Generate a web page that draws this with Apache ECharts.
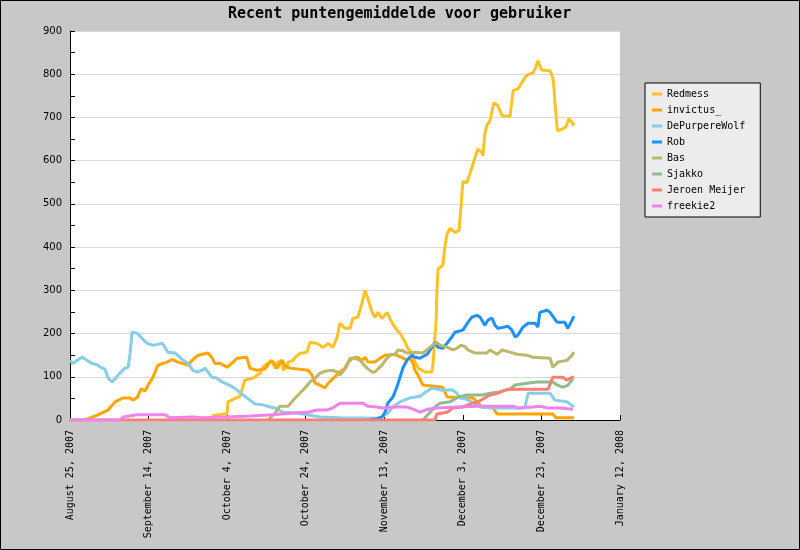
<!DOCTYPE html>
<html>
<head>
<meta charset="utf-8">
<script src="https://cdn.jsdelivr.net/npm/echarts@6/dist/echarts.min.js"></script>
<style>
html,body{margin:0;padding:0;background:#c8c8c8;}
#chart{width:800px;height:550px;}
</style>
</head>
<body>
<div id="chart"></div>
<script>
// Data: [days since August 25, 2007, value]
const seriesNames = ["Redmess","invictus_","DePurpereWolf","Rob","Bas","Sjakko","Jeroen Meijer","freekie2"];
const yTicks = [0,100,200,300,400,500,600,700,800,900];
const xTickDays = [0,20,40,60,80,100,120,140];

const redmess = [[36.1,10],[40,15],[40.2,42],[43.3,55],[44.5,92],[46.6,97],[48.4,108],[49.1,122],[50.4,132],[51.4,138],[52.2,120],[52.9,134],[54,138],[54.2,115],[55.2,122],[55.5,134],[56.8,138],[57.3,145],[58.5,154],[60.3,157],[61.1,180],[62.9,177],[63.6,173],[64.4,168],[65.7,177],[66.9,168],[68,192],[68.7,224],[70,212],[71.3,212],[72,235],[73.3,238],[74.3,270],[75.1,300],[75.8,281],[76.9,249],[77.6,238],[78.4,249],[79.4,235],[80.7,249],[82,224],[83.2,208],[84,201],[85.3,180],[86,166],[87,155],[87.8,135],[88.6,120],[90.4,111],[92.1,111],[92.4,130],[93.2,231],[93.4,300],[93.7,350],[94.9,358],[95.4,400],[96,431],[96.7,443],[98,434],[99,438],[99.5,490],[100,552],[101,549],[101.8,570],[102.6,593],[103.8,627],[104.9,618],[105.1,611],[105.6,662],[106.1,681],[106.9,692],[107.9,734],[108.9,727],[110,704],[112,702],[112.8,762],[114,766],[115.3,785],[116.3,798],[117.8,803],[118.4,812],[119.1,831],[119.6,819],[120.1,810],[122.2,808],[122.9,792],[123.2,768],[123.4,738],[124,676],[124.2,669],[125.5,674],[126.2,678],[127,697],[127.8,688],[128.3,681]];

const invictus = [[3.8,0],[7.1,12],[9.7,23],[11.5,42],[13.5,51],[15.3,51],[16,46],[17.1,52],[18.1,72],[19.1,67],[19.9,81],[21.1,99],[22.4,127],[24.7,134],[26,140],[27.5,134],[30,127],[31.1,138],[32.3,148],[33.6,152],[35.1,155],[36.1,145],[36.9,131],[38.2,131],[40,122],[41.2,131],[42.5,143],[45,145],[45.8,120],[47.6,115],[49.6,118],[50.9,134],[51.7,134],[52.7,120],[54,138],[54.7,126],[56,120],[60.6,115],[61.6,104],[62.4,85],[63.6,81],[64.9,74],[65.7,85],[67.4,99],[68.2,108],[70,120],[70.8,134],[72,143],[73.3,145],[74.3,138],[75.1,145],[75.8,134],[77.6,134],[78.9,143],[80.2,150],[82.7,152],[84.8,143],[85.8,138],[86.5,145],[87.3,131],[87.8,115],[88.6,104],[89.8,81],[94.9,76],[96,53],[102.6,51],[103.6,42],[104.9,30],[107.7,28],[108.7,14],[122.9,14],[123.7,5],[128.3,5]];

const dePurpereWolf = [[0,138],[0.8,131],[1.8,138],[3.1,145],[4.3,138],[5.6,131],[6.9,128],[8.1,120],[8.9,118],[9.7,97],[10.7,88],[11.5,95],[12.2,104],[14,120],[14.8,122],[15.3,155],[15.8,203],[17.1,201],[18.3,189],[19.6,178],[20.9,173],[22.4,175],[23.4,178],[24.2,168],[24.9,157],[26.7,155],[28,145],[28.8,138],[30,131],[31.3,115],[32.3,111],[33.6,115],[34.4,120],[35.1,111],[36.1,99],[37.4,97],[38.7,88],[40,83],[41.5,76],[42.5,69],[43.8,60],[45.8,46],[47.1,37],[49.1,35],[50.9,30],[52.2,28],[54.2,18],[57.8,16],[60.3,12],[63.6,7],[68.7,5],[78.9,4],[80.7,14],[82.2,30],[84,42],[86.5,51],[89.1,55],[92.1,74],[94.7,69],[97.2,70],[98.5,62],[99.3,51],[101,48],[104.4,30],[107.7,28],[115.8,28],[116.6,62],[122.2,62],[123.4,46],[126.5,42],[128.3,30]];

const rob = [[76.4,0],[78.1,3],[79.4,7],[80.2,18],[80.9,39],[82.2,53],[83.2,76],[84,99],[84.8,122],[85.8,138],[87,150],[87.8,145],[89.1,143],[90.9,152],[92.1,168],[92.9,180],[93.7,168],[94.9,166],[96,178],[97.2,192],[98,203],[100,208],[101.3,226],[102.3,238],[103.6,242],[104.4,238],[104.9,242],[105.6,219],[106.4,231],[107.4,236],[108.2,219],[108.9,212],[111.5,217],[112.5,208],[113.3,192],[114,196],[115.3,215],[116.6,224],[118.4,224],[119.1,215],[119.6,249],[121.4,254],[122.2,249],[124,226],[126,226],[126.7,212],[127.8,231],[128.3,240]];

const bas = [[50.4,0],[52.2,16],[53.4,32],[55.5,32],[57.3,51],[58.5,62],[59.8,74],[61.1,88],[62.4,97],[63.6,108],[64.9,113],[66.7,115],[68,111],[68.7,104],[70.2,120],[71.3,143],[72.5,143],[73.8,138],[74.5,131],[75.6,120],[76.9,111],[77.6,111],[79.4,127],[80.7,143],[81.4,150],[82.7,152],[83.5,162],[84.8,160],[85.8,155],[87.8,157],[89.8,155],[91.6,168],[93.2,180],[94.2,173],[96,168],[97.5,162],[98.5,166],[99.5,173],[100.5,170],[101.3,162],[103.1,155],[106.1,155],[106.9,162],[108.7,152],[110,162],[112,157],[113.8,152],[116.3,150],[117.8,145],[122.2,143],[122.9,122],[124.2,134],[126.5,138],[127.8,150],[128.3,157]];

const sjakko = [[89.8,0],[91.1,12],[92.1,23],[92.9,30],[94.2,39],[96.7,42],[98.8,53],[101,58],[104.9,58],[106.9,62],[109.4,65],[112,72],[113.3,81],[116.3,85],[118.9,88],[122.9,88],[124.2,80],[125.5,76],[126.7,80],[128,95]];

const jeroenMeijer = [[0,0],[92.9,0],[93.4,14],[96,18],[97.5,28],[100,30],[102.3,39],[103.8,42],[105.6,51],[106.9,58],[108.9,62],[110.7,69],[112,71],[121.7,71],[122.9,99],[125.5,99],[126.5,92],[127,88],[127.8,99],[128.3,99]];

const freekie2 = [[0,0],[12.7,0],[13.5,7],[17.1,12],[24.2,12],[25.5,5],[31.1,7],[33.9,5],[40,7],[45.8,9],[51.7,12],[56.8,16],[60.6,18],[62.9,23],[65.4,23],[66.9,28],[68.7,39],[74.6,39],[75.8,32],[78.1,30],[79.7,28],[83.2,30],[85.8,30],[87.3,25],[89.1,18],[91.1,25],[93.4,28],[98.5,30],[103.6,32],[112.8,32],[113.8,28],[117.8,30],[119.6,32],[121.4,28],[124.7,28],[128,25]];

const seriesData = [redmess, invictus, dePurpereWolf, rob, bas, sjakko, jeroenMeijer, freekie2];
const colors = ["#FFC125","#FFA500","#87CEEB","#1E90FF","#BDB76B","#8FBC8F","#FA8072","#EE82EE"];

const monthNames = ["January","February","March","April","May","June","July","August","September","October","November","December"];
const startUTC = Date.UTC(2007,7,25);
function dayLabel(d){
  const dt = new Date(startUTC + d*86400000);
  return monthNames[dt.getUTCMonth()] + " " + dt.getUTCDate() + ", " + dt.getUTCFullYear();
}

const chart = echarts.init(document.getElementById('chart'), null, {renderer:'canvas'});
chart.setOption({
  animation:false,
  backgroundColor:'#c8c8c8',
  title:{
    text:'Recent puntengemiddelde voor gebruiker',
    left:223, top:2,
    textStyle:{fontFamily:'DejaVu Sans Mono', fontSize:15, fontWeight:'bold', color:'#000'}
  },
  legend:{
    orient:'vertical', left:645, top:83,
    backgroundColor:'#ececec', borderColor:'#000', borderWidth:1, borderRadius:0,
    padding:[5,15,5,7], itemGap:4, itemWidth:10, itemHeight:3, itemTextGap:10,
    icon:'rect',
    textStyle:{fontFamily:'DejaVu Sans Mono', fontSize:10, color:'#000', lineHeight:12},
    data:seriesNames
  },
  grid:{left:70, right:180, top:31, bottom:130, show:true, backgroundColor:'#fff', borderWidth:0},
  xAxis:{
    type:'value', min:xTickDays[0], max:xTickDays[xTickDays.length-1], interval:20,
    axisLine:{lineStyle:{color:'#000', width:1}},
    axisTick:{inside:true, length:5, lineStyle:{color:'#000'}},
    splitLine:{show:false},
    axisLabel:{rotate:90, margin:10, fontFamily:'DejaVu Sans Mono', fontSize:10, color:'#000',
      formatter:function(v){return dayLabel(v);}}
  },
  yAxis:{
    type:'value', min:yTicks[0], max:yTicks[yTicks.length-1], interval:100,
    axisLine:{show:true, lineStyle:{color:'#000', width:1}},
    axisTick:{show:true, inside:true, length:5, lineStyle:{color:'#000'}},
    minorTick:{show:true, splitNumber:2, length:5, lineStyle:{color:'#000'}},
    splitLine:{show:true, lineStyle:{color:'#d9d9d9', width:1}},
    axisLabel:{margin:8, fontFamily:'DejaVu Sans', fontSize:10, color:'#000'}
  },
  graphic:[{type:'rect', silent:true, z:100, shape:{x:0.5,y:0.5,width:799,height:549}, style:{fill:'none', stroke:'#000', lineWidth:1}}],
  series: seriesNames.map(function(n,i){
    return {name:n, type:'line', data:seriesData[i], showSymbol:false, symbol:'none',
      color:colors[i], lineStyle:{width:3, color:colors[i]}, z:2+i};
  })
});
</script>
</body>
</html>
